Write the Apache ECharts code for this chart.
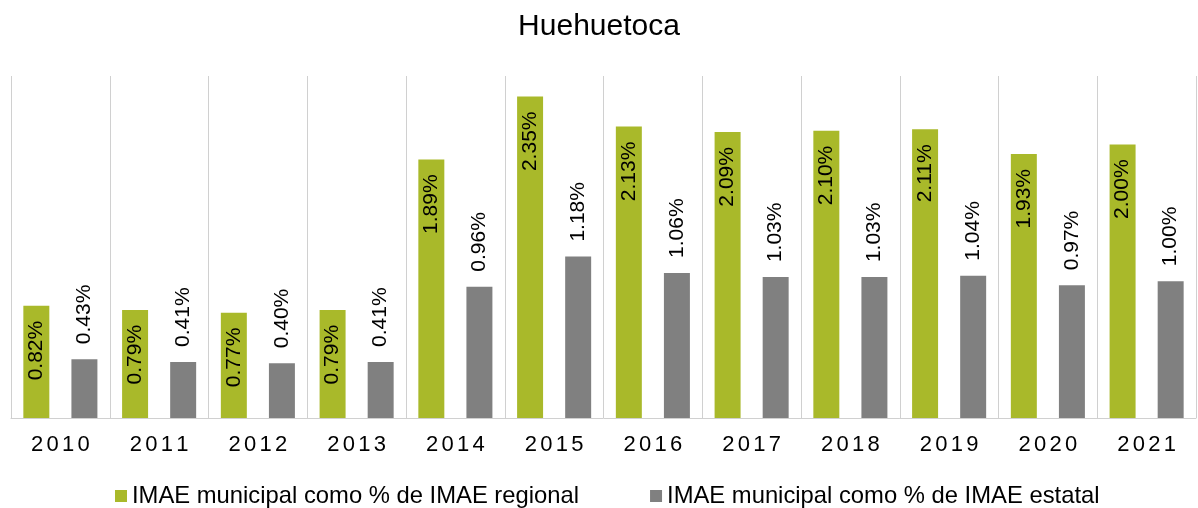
<!DOCTYPE html>
<html>
<head>
<meta charset="utf-8">
<script src="https://cdn.jsdelivr.net/npm/echarts@6/dist/echarts.min.js"></script>
<style>
  html, body { margin: 0; padding: 0; background: #fff; }
  #chart { width: 1198px; height: 508px; }
</style>
</head>
<body>
<div id="chart"></div>
<script>
const years = ['2010', '2011', '2012', '2013', '2014', '2015', '2016', '2017', '2018', '2019', '2020', '2021'];
const regional = [0.82, 0.79, 0.77, 0.79, 1.89, 2.35, 2.13, 2.09, 2.10, 2.11, 1.93, 2.00];
const estatal = [0.43, 0.41, 0.40, 0.41, 0.96, 1.18, 1.06, 1.03, 1.03, 1.04, 0.97, 1.00];
const seriesNames = ['IMAE municipal como % de IMAE regional', 'IMAE municipal como % de IMAE estatal'];

const font = 'Arial, "Liberation Sans", sans-serif';
const pct = p => p.value.toFixed(2) + '%';

const chart = echarts.init(document.getElementById('chart'));
chart.setOption({
  backgroundColor: '#ffffff',
  animation: false,
  title: {
    text: 'Huehuetoca',
    left: 'center',
    top: 7,
    textStyle: { fontFamily: font, fontSize: 30, fontWeight: 'normal', color: '#000' }
  },
  legend: {
    left: 115,
    top: 484,
    padding: 0,
    itemGap: 71,
    itemWidth: 12,
    itemHeight: 12,
    icon: 'rect',
    textStyle: { fontFamily: font, fontSize: 23.8, color: '#000' },
    data: seriesNames
  },
  grid: { left: 11, right: 2, top: 76, bottom: 90, containLabel: false },
  xAxis: {
    type: 'category',
    data: years,
    axisTick: { show: false },
    axisLine: { lineStyle: { color: '#d0d0d0', width: 1 } },
    splitLine: { show: true, interval: 0, lineStyle: { color: '#d0d0d0', width: 1 } },
    axisLabel: {
      interval: 0,
      margin: 16,
      fontFamily: font,
      fontSize: 22,
      lineHeight: 22,
      color: '#000',
      formatter: v => v.split('').join('{s| }'),
      rich: { s: { fontSize: 12, lineHeight: 22 } }
    }
  },
  yAxis: {
    type: 'value',
    min: 0,
    max: 2.5,
    show: false,
    splitLine: { show: false }
  },
  series: [
    {
      name: seriesNames[0],
      type: 'bar',
      data: regional,
      barGap: '85%',
      barCategoryGap: '25%',
      itemStyle: { color: '#a9b92a' },
      label: {
        show: true,
        position: 'insideTop',
        distance: 15,
        rotate: 90,
        align: 'right',
        verticalAlign: 'middle',
        fontFamily: font,
        fontSize: 21,
        color: '#000',
        formatter: pct
      }
    },
    {
      name: seriesNames[1],
      type: 'bar',
      data: estatal,
      itemStyle: { color: '#808080' },
      label: {
        show: true,
        position: 'top',
        distance: 15,
        rotate: 90,
        align: 'left',
        verticalAlign: 'middle',
        fontFamily: font,
        fontSize: 21,
        color: '#000',
        formatter: pct
      }
    }
  ]
});
</script>
</body>
</html>
